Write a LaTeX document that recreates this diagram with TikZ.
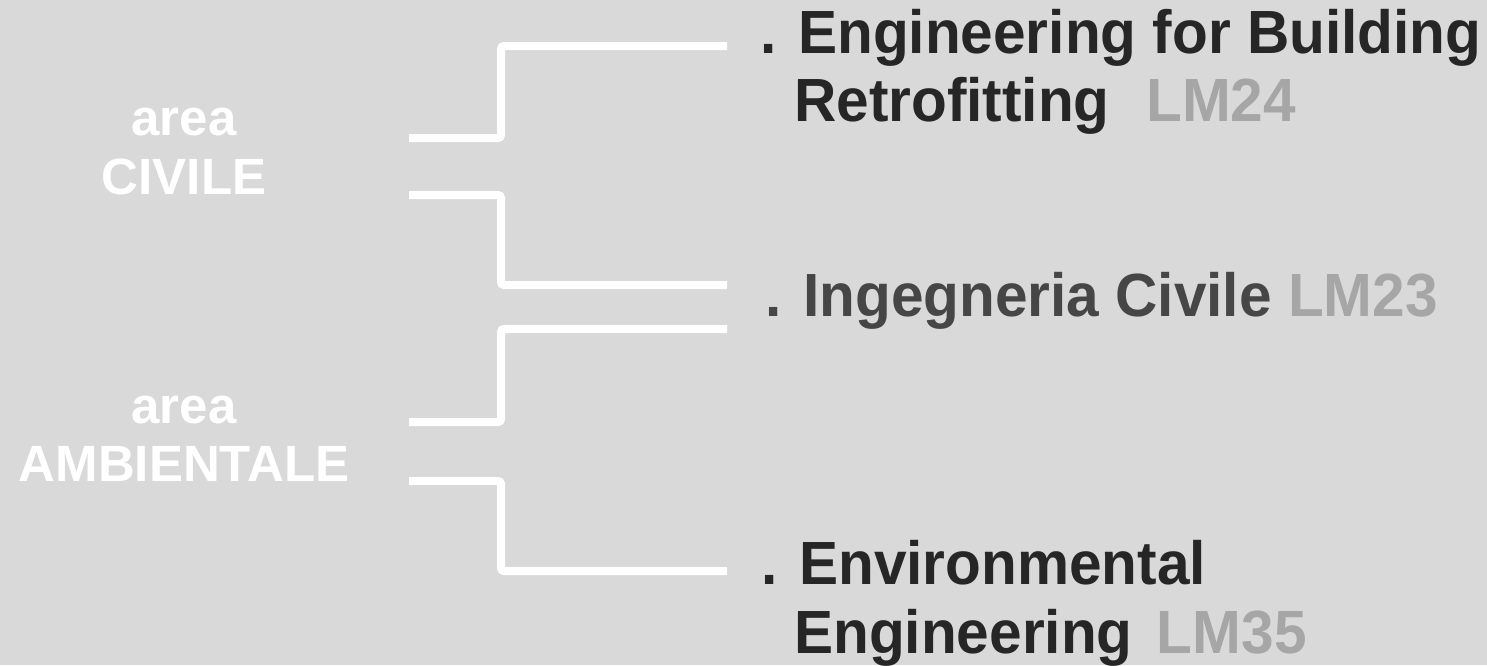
\documentclass[tikz,border=0pt]{standalone}
\usepackage{fontspec}
\setmainfont{Liberation Sans}
\newfontfamily\crsfont{Liberation Sans}[FakeStretch=0.96]
\definecolor{bg}{HTML}{D9D9D9}
\definecolor{dark}{HTML}{262626}
\definecolor{mid}{HTML}{464646}
\definecolor{lm}{HTML}{A6A6A6}
\begin{document}
\begin{tikzpicture}[x=1pt,y=-1pt,
  conn/.style={draw=white,line width=8pt,rounded corners=3pt},
  crs/.style={anchor=base west,inner sep=0pt,font=\crsfont\fontsize{61}{63}\selectfont\bfseries,text=dark},
  arealbl/.style={anchor=base,inner sep=0pt,font=\fontsize{51}{53}\selectfont\bfseries,text=white}]
\fill[bg] (0,0) rectangle (1487,665);
\useasboundingbox (0,0) rectangle (1487,665);
% area labels
\node[arealbl] (a1) at (184,135) {area};
\node[arealbl] (a2) at (184,194) {CIVILE};
\node[arealbl] (a3) at (184,423) {area};
\node[arealbl] (a4) at (184,481) {AMBIENTALE};
% course labels
\node[crs] (c1a) at (760,53) {. Engineering for Building};
\node[crs] (c1b) at (794,121) {Retrofitting\hspace{0.6em}\textcolor{lm}{LM24}};
\node[crs,text=mid] (c2) at (765,316) {. Ingegneria Civile \textcolor{lm}{LM23}};
\node[crs] (c3a) at (761,584) {. Environmental};
\node[crs] (c3b) at (794,653) {Engineering\hspace{0.4em}\textcolor{lm}{LM35}};
% connector ends
\coordinate (s1) at (409,138);
\coordinate (e1) at (727,46);
\coordinate (s2) at (409,195);
\coordinate (e2) at (727,285);
\coordinate (s3) at (409,422);
\coordinate (e3) at (727,329);
\coordinate (s4) at (409,481);
\coordinate (e4) at (727,571);
\draw[conn] (s1) -- ++(92,0) |- (e1);
\draw[conn] (s2) -- ++(92,0) |- (e2);
\draw[conn] (s3) -- ++(92,0) |- (e3);
\draw[conn] (s4) -- ++(92,0) |- (e4);
\end{tikzpicture}
\end{document}
